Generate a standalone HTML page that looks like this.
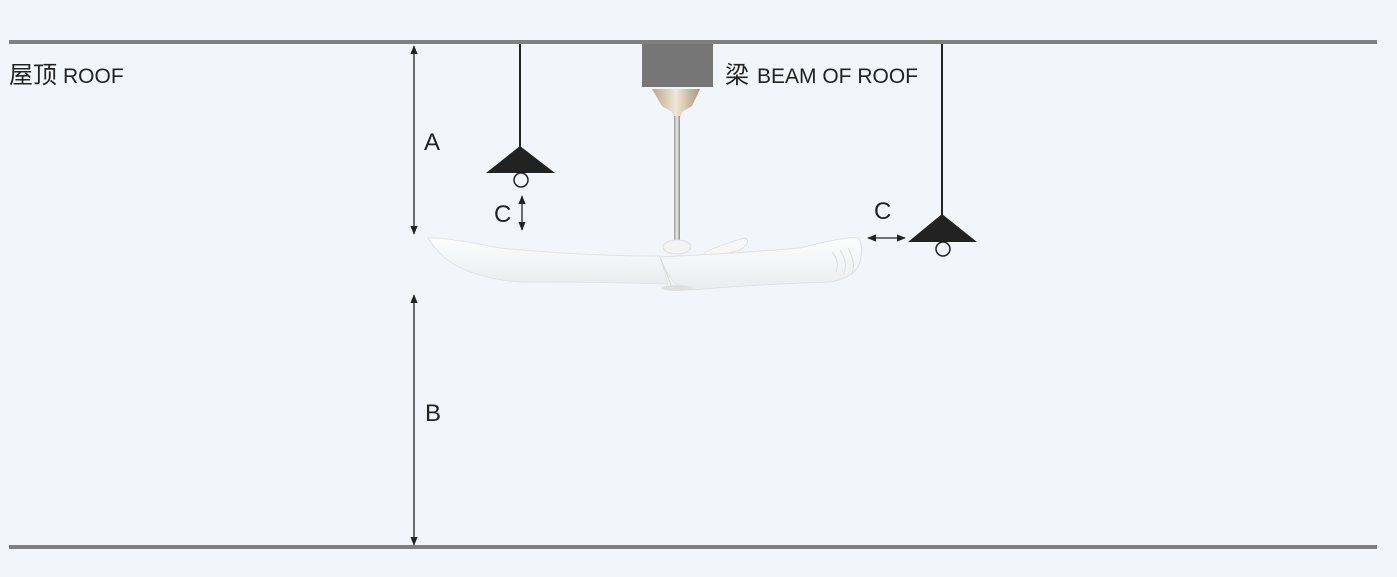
<!DOCTYPE html>
<html><head><meta charset="utf-8"><style>
html,body{margin:0;padding:0;background:#f2f6fb;}
svg{display:block}
text{font-family:"Liberation Sans","Noto Sans CJK SC",sans-serif;fill:#222;}
</style></head><body>
<svg width="1397" height="577" viewBox="0 0 1397 577" xmlns="http://www.w3.org/2000/svg">
<defs>
<marker id="ah" viewBox="0 0 10 10" refX="9" refY="5" markerWidth="7" markerHeight="7" orient="auto-start-reverse">
<path d="M0,1 L10,5 L0,9 z" fill="#222"/></marker>
<linearGradient id="gold" x1="0" x2="1"><stop offset="0" stop-color="#b9a78a"/><stop offset=".5" stop-color="#f1e7d6"/><stop offset="1" stop-color="#a99678"/></linearGradient>
<linearGradient id="rod" x1="0" x2="1"><stop offset="0" stop-color="#999"/><stop offset=".5" stop-color="#eee"/><stop offset="1" stop-color="#888"/></linearGradient>
<linearGradient id="blade" x1="0" y1="0" x2="0" y2="1"><stop offset="0" stop-color="#fdfdfd"/><stop offset="1" stop-color="#e9ecef"/></linearGradient>
</defs>
<rect x="9" y="40" width="1368" height="4" fill="#7f7f7f"/>
<rect x="9" y="545" width="1368" height="4" fill="#7f7f7f"/>
<rect x="642" y="44" width="71" height="43" fill="#767676"/>
<text x="9" y="83" font-size="24">屋顶<tspan font-size="21" dx="6">ROOF</tspan></text>
<text x="725" y="83" font-size="24">梁<tspan font-size="21" dx="8">BEAM OF ROOF</tspan></text>
<!-- fan canopy and rod -->
<path d="M652,89 L700,89 L692,106 L682,112 L680,118 L674,118 L672,112 L662,106 Z" fill="url(#gold)"/>
<rect x="674" y="116" width="6" height="124" fill="url(#rod)"/>
<ellipse cx="677" cy="247" rx="14" ry="7" fill="#f4f4f4" stroke="#ddd"/>
<path d="M705,252 Q735,240 745,238 Q752,242 740,250 Q720,256 705,256Z" fill="#f7f7f7" stroke="#ddd" stroke-width="0.8"/>
<!-- left blade -->
<path d="M428,238 Q440,236 500,248 Q580,256 660,256 L668,284 Q600,282 520,282 Q470,278 445,258 Q432,246 428,238Z" fill="url(#blade)" stroke="#e2e2e2" stroke-width="1"/>
<!-- right blade -->
<path d="M660,257 Q740,253 800,248 Q845,236 858,238 Q864,244 860,262 Q855,278 830,282 Q760,284 690,290 Q672,290 660,257Z" fill="url(#blade)" stroke="#e0e0e0" stroke-width="1"/>
<path d="M660,257 L673,290" stroke="#d8d8d8" stroke-width="1"/>
<path d="M832,252 Q840,262 836,272 M840,250 Q848,262 844,274 M848,248 Q856,262 852,274" stroke="#dcdcdc" fill="none"/>
<ellipse cx="677" cy="288" rx="16" ry="3" fill="#e0e0e0"/>
<!-- left lamp -->
<line x1="520" y1="44" x2="520" y2="148" stroke="#222" stroke-width="2"/>
<path d="M520,146 L555,173 L486,173 Z" fill="#222"/>
<circle cx="521" cy="180" r="7" fill="none" stroke="#222" stroke-width="1.5"/>
<!-- right lamp -->
<line x1="942" y1="44" x2="942" y2="216" stroke="#222" stroke-width="2"/>
<path d="M942,214 L977,242 L908,242 Z" fill="#222"/>
<circle cx="943" cy="249" r="7" fill="none" stroke="#222" stroke-width="1.5"/>
<!-- dimension arrows -->
<line x1="414" y1="46" x2="414" y2="234" stroke="#222" stroke-width="1.3" marker-start="url(#ah)" marker-end="url(#ah)"/>
<line x1="414" y1="295" x2="414" y2="545" stroke="#222" stroke-width="1.3" marker-start="url(#ah)" marker-end="url(#ah)"/>
<line x1="522" y1="196" x2="522" y2="230" stroke="#222" stroke-width="1.3" marker-start="url(#ah)" marker-end="url(#ah)"/>
<line x1="868" y1="238" x2="905" y2="238" stroke="#222" stroke-width="1.3" marker-start="url(#ah)" marker-end="url(#ah)"/>
<text x="424" y="150" font-size="24">A</text>
<text x="425" y="421" font-size="24">B</text>
<text x="494" y="222" font-size="24">C</text>
<text x="874" y="219" font-size="24">C</text>
</svg>
</body></html>
